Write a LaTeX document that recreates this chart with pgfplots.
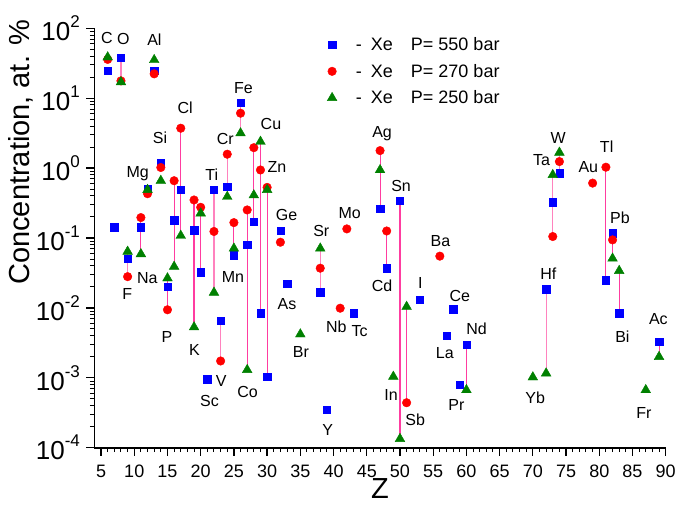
\documentclass[border=0pt]{standalone}
\usepackage{fontspec}
\setmainfont{Liberation Sans}
\usepackage{pgfplots}
\pgfplotsset{compat=1.18}
\definecolor{cblue}{RGB}{0,0,255}
\definecolor{cred}{RGB}{255,0,0}
\definecolor{cgreen}{RGB}{0,128,0}
\definecolor{pinkA}{RGB}{255,60,160}
\definecolor{pinkB}{RGB}{255,130,190}
\newcommand{\ylab}[1]{10\raisebox{0.5em}{\fontsize{17}{17}\selectfont#1}}
\newcommand{\lab}{\fontsize{16}{18}\selectfont}
\newcommand{\leg}[1]{\hspace{17pt}\makebox[15pt][l]{-}\makebox[40pt][l]{Xe}P= #1 bar}
\begin{document}
\begin{tikzpicture}
\useasboundingbox (0,0) rectangle (677pt,512pt);
\begin{axis}[
 at={(94.4pt,64.3pt)}, anchor=south west,
 width=571.3pt, height=419.4pt, scale only axis,
 xmin=4, xmax=90, ymode=log, ymin=1e-4, ymax=100,
 axis x line*=bottom, axis y line*=left,
 axis line style={line width=1.6pt, black},
 tick align=outside,
 major tick length=8pt, minor tick length=4.5pt,
 every major tick/.append style={line width=1.3pt, black},
 every minor tick/.append style={line width=1pt, black},
 xtick={5,10,...,90}, minor x tick num=4,
 ytick={1e-4,1e-3,1e-2,1e-1,1,10,100},
 yticklabels={\ylab{-4},\ylab{-3},\ylab{-2},\ylab{-1},\ylab{0},\ylab{1},\ylab{2}},
 minor ytick={2e-4,3e-4,4e-4,5e-4,6e-4,7e-4,8e-4,9e-4,2e-3,3e-3,4e-3,5e-3,6e-3,7e-3,8e-3,9e-3,2e-2,3e-2,4e-2,5e-2,6e-2,7e-2,8e-2,9e-2,0.2,0.3,0.4,0.5,0.6,0.7,0.8,0.9,2,3,4,5,6,7,8,9,20,30,40,50,60,70,80,90},
 /pgf/number format/assume math mode=true,
 xticklabel style={font=\fontsize{18}{20}\selectfont, yshift=-6pt},
 yticklabel style={font=\fontsize{26}{28}\selectfont, xshift=-3pt},
 xlabel={Z}, ylabel={Concentration, at. \%},
 every axis x label/.style={at={(axis description cs:0.5,0)}, yshift=-41pt, anchor=center, font=\fontsize{29}{32}\selectfont},
 every axis y label/.style={at={(axis description cs:0,0.705)}, xshift=-74pt, rotate=90, anchor=center, font=\fontsize{29}{32}\selectfont},
 clip=false,
 legend style={at={(axis description cs:0.402,0.988)}, anchor=north west, draw=none, fill=none, font=\fontsize{18}{20}\selectfont, row sep=8pt},
 legend cell align=left,
]
% vertical connecting lines
\addplot[pinkB, line width=1.1pt, forget plot] coordinates {(8,17) (8,38)};
\addplot[pinkB, line width=1.1pt, forget plot] coordinates {(9,0.028) (9,0.064)};
\addplot[pinkA, line width=1.1pt, forget plot] coordinates {(11,0.059) (11,0.196)};
\addplot[pinkA, line width=1.1pt, forget plot] coordinates {(15,0.0094) (15,0.0266)};
\addplot[pinkA, line width=1.1pt, forget plot] coordinates {(16,0.039) (16,0.66)};
\addplot[pinkA, line width=1.1pt, forget plot] coordinates {(17,0.108) (17,3.72)};
\addplot[pinkA, line width=1.1pt, forget plot] coordinates {(19,0.0053) (19,0.35)};
\addplot[pinkA, line width=1.1pt, forget plot] coordinates {(20,0.0324) (20,0.275)};
\addplot[pinkB, line width=1.1pt, forget plot] coordinates {(22,0.0166) (22,0.49)};
\addplot[pinkB, line width=1.1pt, forget plot] coordinates {(23,0.00174) (23,0.0066)};
\addplot[pinkB, line width=1.1pt, forget plot] coordinates {(24,0.39) (24,1.58)};
\addplot[pinkA, line width=1.1pt, forget plot] coordinates {(25,0.057) (25,0.166)};
\addplot[pinkB, line width=1.1pt, forget plot] coordinates {(26,3.16) (26,8.7)};
\addplot[pinkA, line width=1.1pt, forget plot] coordinates {(27,0.0013) (27,0.252)};
\addplot[pinkA, line width=1.1pt, forget plot] coordinates {(28,0.172) (28,1.96)};
\addplot[pinkA, line width=1.1pt, forget plot] coordinates {(29,0.0084) (29,2.39)};
\addplot[pinkA, line width=1.1pt, forget plot] coordinates {(30,0.00104) (30,0.53)};
\addplot[pinkB, line width=1.1pt, forget plot] coordinates {(38,0.0168) (38,0.071)};
\addplot[pinkA, line width=1.1pt, forget plot] coordinates {(47,0.26) (47,1.78)};
\addplot[pinkA, line width=1.1pt, forget plot] coordinates {(48,0.037) (48,0.126)};
\addplot[pinkA, line width=1.1pt, forget plot] coordinates {(50,0.000134) (50,0.343)};
\addplot[pinkA, line width=1.1pt, forget plot] coordinates {(51,0.00044) (51,0.0104)};
\addplot[pinkA, line width=1.1pt, forget plot] coordinates {(60,0.00067) (60,0.00296)};
\addplot[pinkB, line width=1.1pt, forget plot] coordinates {(72,0.00116) (72,0.0185)};
\addplot[pinkB, line width=1.1pt, forget plot] coordinates {(73,0.105) (73,0.80)};
\addplot[pinkB, line width=1.1pt, forget plot] coordinates {(74,0.85) (74,1.67)};
\addplot[pinkA, line width=1.1pt, forget plot] coordinates {(81,0.025) (81,1.03)};
\addplot[pinkA, line width=1.1pt, forget plot] coordinates {(82,0.051) (82,0.117)};
\addplot[pinkA, line width=1.1pt, forget plot] coordinates {(83,0.0084) (83,0.034)};
\addplot[pinkA, line width=1.1pt, forget plot] coordinates {(89,0.0020) (89,0.0033)};
% Xe P = 550 bar
\addplot[only marks, mark=square*, mark size=3.7pt, color=cblue] coordinates {
(6,24.6) (7,0.143) (8,38) (9,0.051) (11,0.143) (12,0.50) (13,24.8) (14,1.17)
(15,0.020) (16,0.18) (17,0.49) (19,0.13) (20,0.0324) (21,0.00095) (22,0.49)
(23,0.0066) (24,0.54) (25,0.057) (26,8.7) (27,0.080) (28,0.172) (29,0.0084)
(30,0.00104) (32,0.128) (33,0.022) (38,0.0168) (39,0.00035) (43,0.0084)
(47,0.26) (48,0.037) (50,0.343) (53,0.013) (57,0.0040) (58,0.0096) (59,0.00079)
(60,0.00296) (72,0.0185) (73,0.325) (74,0.85) (81,0.025) (82,0.117) (83,0.0084) (89,0.0033)};
\addlegendentry{\leg{550}}
% Xe P = 270 bar
\addplot[only marks, mark=*, mark size=4.3pt, color=cred] coordinates {
(6,35.9) (8,17.7) (9,0.028) (11,0.196) (12,0.43) (13,22.3) (14,1.02) (15,0.0094)
(16,0.66) (17,3.72) (19,0.35) (20,0.275) (22,0.124) (23,0.00174) (24,1.58)
(25,0.166) (26,6.1) (27,0.252) (28,1.96) (29,0.94) (30,0.53) (32,0.087)
(38,0.037) (41,0.0099) (42,0.135) (47,1.78) (48,0.126) (51,0.00044) (56,0.055)
(73,0.105) (74,1.24) (79,0.61) (81,1.03) (82,0.094)};
\addlegendentry{\leg{270}}
% Xe P = 250 bar
\addplot[only marks, mark=triangle*, mark size=5.6pt, color=cgreen] coordinates {
(6,38.6) (8,17) (9,0.064) (11,0.059) (12,0.49) (13,35.3) (14,0.66) (15,0.0266)
(16,0.039) (17,0.108) (19,0.0053) (20,0.226) (22,0.0166) (24,0.39) (25,0.071)
(26,3.16) (27,0.0013) (28,0.41) (29,2.39) (30,0.49) (35,0.0042) (38,0.071)
(47,0.94) (49,0.00104) (50,0.000134) (51,0.0104) (60,0.00067) (70,0.00102)
(72,0.00116) (73,0.80) (74,1.67) (82,0.051) (83,0.034) (87,0.00067) (89,0.0020)};
\addlegendentry{\leg{250}}
% element labels
\begin{scope}[every node/.style={font=\lab, inner sep=0pt}]
\node at (axis cs:5.9,72.2) {C};
\node at (axis cs:8.36,69.8) {O};
\node at (axis cs:13.03,68.2) {Al};
\node at (axis cs:26.45,13.9) {Fe};
\node at (axis cs:17.66,7.19) {Cl};
\node at (axis cs:30.58,4.25) {Cu};
\node at (axis cs:13.89,2.68) {Si};
\node at (axis cs:23.69,2.59) {Cr};
\node at (axis cs:47.31,3.16) {Ag};
\node at (axis cs:73.83,2.68) {W};
\node at (axis cs:81.11,2.03) {Tl};
\node at (axis cs:71.31,1.31) {Ta};
\node at (axis cs:78.35,1.05) {Au};
\node at (axis cs:10.53,0.845) {Mg};
\node at (axis cs:31.48,1.03) {Zn};
\node at (axis cs:21.68,0.80) {Ti};
\node at (axis cs:50.17,0.556) {Sn};
\node at (axis cs:32.93,0.214) {Ge};
\node at (axis cs:42.42,0.226) {Mo};
\node at (axis cs:38.16,0.124) {Sr};
\node at (axis cs:56.09,0.089) {Ba};
\node at (axis cs:83.12,0.192) {Pb};
\node at (axis cs:72.32,0.0313) {Hf};
\node at (axis cs:24.85,0.0277) {Mn};
\node at (axis cs:11.98,0.0271) {Na};
\node at (axis cs:8.96,0.0157) {F};
\node at (axis cs:47.31,0.021) {Cd};
\node at (axis cs:53.08,0.0226) {I};
\node at (axis cs:59.0,0.015) {Ce};
\node at (axis cs:32.99,0.0112) {As};
\node at (axis cs:40.42,0.0054) {Nb};
\node at (axis cs:43.93,0.00469) {Tc};
\node at (axis cs:14.92,0.00381) {P};
\node at (axis cs:61.52,0.00496) {Nd};
\node at (axis cs:83.48,0.00389) {Bi};
\node at (axis cs:88.9,0.00689) {Ac};
\node at (axis cs:56.74,0.00225) {La};
\node at (axis cs:35.1,0.00237) {Br};
\node at (axis cs:19.06,0.0025) {K};
\node at (axis cs:23.09,0.000912) {V};
\node at (axis cs:27.05,0.000629) {Co};
\node at (axis cs:21.32,0.000472) {Sc};
\node at (axis cs:48.66,0.00056) {In};
\node at (axis cs:58.5,0.000409) {Pr};
\node at (axis cs:70.36,0.000521) {Yb};
\node at (axis cs:86.73,0.000318) {Fr};
\node at (axis cs:52.28,0.00025) {Sb};
\node at (axis cs:39.11,0.00018) {Y};
\end{scope}
\end{axis}
\end{tikzpicture}
\end{document}
